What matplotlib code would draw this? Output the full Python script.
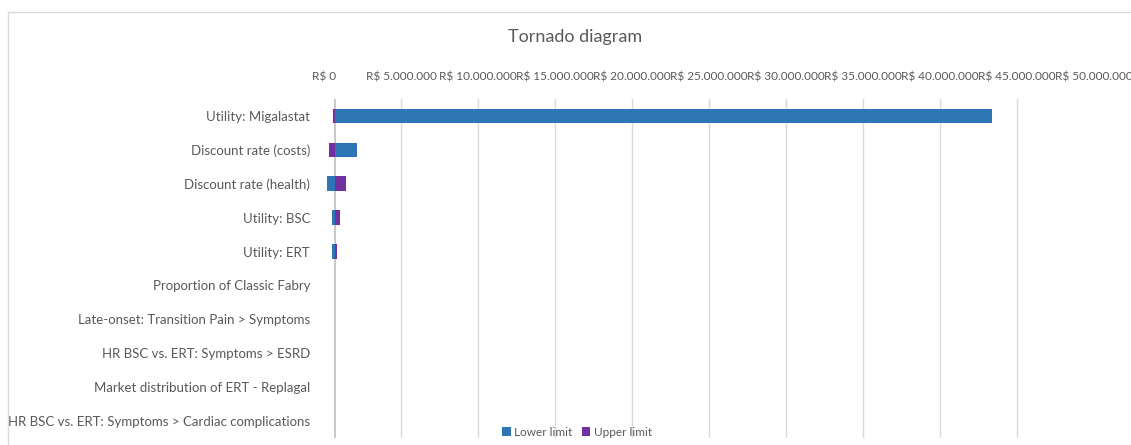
import matplotlib.pyplot as plt
from matplotlib.patches import Rectangle
import numpy as np

plt.rcParams['font.family'] = ['Lato', 'DejaVu Sans']

# Parâmetros e limites do ICER (R$)
parametros = ['Utility: Migalastat', 'Discount rate (costs)', 'Discount rate (health)',
              'Utility: BSC', 'Utility: ERT', 'Proportion of Classic Fabry',
              'Late-onset: Transition Pain > Symptoms', 'HR BSC vs. ERT: Symptoms > ESRD',
              'Market distribution of ERT - Replagal',
              'HR BSC vs. ERT: Symptoms > Cardiac complications']
caso_base = 710000
limite_inferior = [43380000, 2120000, 195000, 500000, 500000, 710000, 710000, 710000, 710000, 710000]
limite_superior = [552000, 344000, 1410000, 1060000, 864000, 710000, 710000, 710000, 710000, 710000]
ticks = np.arange(0, 50000001, 5000000)

azul = '#2E75B6'
roxo = '#7030A0'
cinza = '#595959'

fig = plt.figure(figsize=(11.31, 4.45), dpi=100)
fig.patches.append(Rectangle((8 / 1131, -0.1), 1.2, (445 - 12) / 445 + 0.1,
                             transform=fig.transFigure, fill=False,
                             edgecolor='#D9D9D9', linewidth=1))
ax = fig.add_axes([324 / 1131, 7 / 445, 770 / 1131, 339 / 445])

y = np.arange(len(parametros))
inf = np.array(limite_inferior) - caso_base
sup = np.array(limite_superior) - caso_base
ax.barh(y, inf, left=caso_base, height=0.43, color=azul, label='Lower limit', zorder=3)
ax.barh(y, sup, left=caso_base, height=0.43, color=roxo, label='Upper limit', zorder=3)

ax.set_xlim(0, 50000000)
ax.set_ylim(len(parametros) - 0.5, -0.5)
ax.set_xticks(ticks)
ax.set_xticklabels(['R$ ' + f'{int(t):,}'.replace(',', '.') for t in ticks])
ax.xaxis.tick_top()
ax.tick_params(axis='x', length=0, pad=12, labelsize=8.5, labelcolor=cinza)
ax.set_yticks(y)
ax.set_yticklabels(parametros)
ax.tick_params(axis='y', length=0, pad=10, labelsize=9.5, labelcolor=cinza)

# grade vertical e linha do caso base
for t in ticks[1:-1]:
    ax.axvline(t, color='#D9D9D9', linewidth=1, zorder=1)
ax.axvline(caso_base, color='#BFBFBF', linewidth=1.2, zorder=2)
for s in ax.spines.values():
    s.set_visible(False)

fig.text(575 / 1131, 1 - 37 / 445, 'Tornado diagram', ha='center', va='center',
         fontsize=13, color=cinza)
fig.legend(loc='center', bbox_to_anchor=(577 / 1131, 1 - 432 / 445), ncol=2,
           frameon=False, fontsize=8.5, labelcolor=cinza, handlelength=0.7,
           handleheight=0.7, handletextpad=0.3, columnspacing=0.8)

plt.savefig('out.png', dpi=100)
